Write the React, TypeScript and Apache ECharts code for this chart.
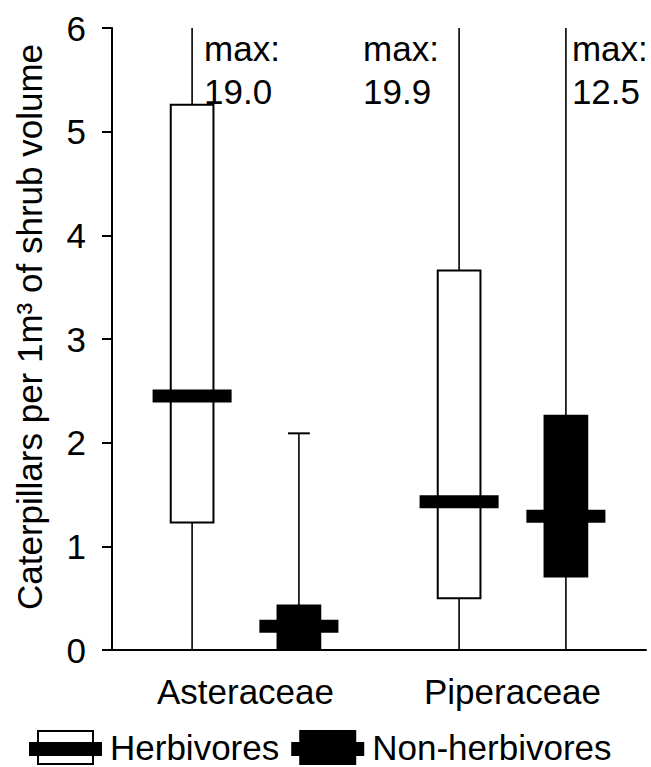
import React, { useEffect, useRef } from "react";
import * as echarts from "echarts";

// ---- data ----
const categories = ["Asteraceae", "Piperaceae"];
// [min, Q1, median, Q3, max]
const herbivores = [
  [0, 1.23, 2.45, 5.26, 19.0],
  [0, 0.5, 1.43, 3.66, 19.9],
];
const nonHerbivores = [
  [0, 0, 0.23, 0.43, 2.09],
  [0, 0.71, 1.29, 2.26, 12.5],
];
const seriesNames = ["Herbivores", "Non-herbivores"];
const yAxisTitle = "Caterpillars per 1m³ of shrub volume";
const yMin = 0;
const yMax = 6;
const yInterval = 1;

const FONT = '"Liberation Sans", Arial, Helvetica, sans-serif';

// label x offsets (px) relative to whisker, per category
const herbLabelOffsets = [12, -96];
const nonHerbLabelOffsets = [6, 6];

function makeRender(offsetFrac: number, filled: boolean, labelOffsets: number[]) {
  return (params: any, api: any) => {
    const cat = api.value(0);
    const band = api.size([1, 0])[0];
    const cs = params.coordSys;
    const cx = api.coord([cat, 0])[0] + offsetFrac * band;
    const py = (v: number) => Math.max(api.coord([cat, v])[1], cs.y);
    const vMin = api.value(1);
    const q1 = api.value(2);
    const med = api.value(3);
    const q3 = api.value(4);
    const vMax = api.value(5);
    const boxW = band * 0.16;
    const medW = band * 0.296;
    const capW = band * 0.082;
    const children: any[] = [
      {
        type: "line",
        shape: { x1: cx, y1: py(vMin), x2: cx, y2: py(vMax) },
        style: { stroke: "#000", lineWidth: 1.6 },
      },
      {
        type: "line",
        shape: { x1: cx - capW / 2, y1: py(vMin), x2: cx + capW / 2, y2: py(vMin) },
        style: { stroke: "#000", lineWidth: 2 },
      },
    ];
    if (vMax <= yMax) {
      children.push({
        type: "line",
        shape: { x1: cx - capW / 2, y1: py(vMax), x2: cx + capW / 2, y2: py(vMax) },
        style: { stroke: "#000", lineWidth: 2 },
      });
    }
    children.push({
      type: "rect",
      shape: { x: cx - boxW / 2, y: py(q3), width: boxW, height: py(q1) - py(q3) },
      style: { fill: filled ? "#000" : "#fff", stroke: "#000", lineWidth: 2 },
    });
    children.push({
      type: "rect",
      shape: { x: cx - medW / 2, y: py(med) - 6.5, width: medW, height: 13 },
      style: { fill: "#000" },
    });
    if (vMax > yMax) {
      children.push({
        type: "text",
        x: cx + labelOffsets[cat],
        y: cs.y - 1,
        style: {
          text: "max:\n" + vMax.toFixed(1),
          fontSize: 35,
          fontFamily: FONT,
          fill: "#000",
          align: "left",
          verticalAlign: "top",
          lineHeight: 43,
        },
      });
    }
    return { type: "group", children };
  };
}

const herbIcon = "path://M8 0H65V35H8Z M10 2V33H63V2Z M0 12H73V26H0Z";
const nonHerbIcon = "path://M8 0H65V35H8Z M0 12H73V26H0Z";

export default function App() {
  const ref = useRef<HTMLDivElement>(null);
  useEffect(() => {
    document.body.style.margin = "0";
    const chart = echarts.init(ref.current!, null, { renderer: "svg" });
    chart.setOption({
      animation: false,
      backgroundColor: "#fff",
      grid: { left: 112, right: 5, top: 28, bottom: 117, containLabel: false },
      legend: {
        left: 29,
        top: 730,
        padding: 0,
        itemWidth: 73,
        itemHeight: 35,
        itemGap: 12,
        textStyle: { fontSize: 35, fontFamily: FONT, color: "#000", padding: [0, 0, 0, 3] },
        itemStyle: { color: "#000", borderWidth: 0 },
        data: [
          { name: seriesNames[0], icon: herbIcon },
          { name: seriesNames[1], icon: nonHerbIcon },
        ],
      },
      xAxis: {
        type: "category",
        data: categories,
        boundaryGap: true,
        axisLine: { lineStyle: { color: "#000", width: 2 } },
        axisTick: { alignWithLabel: true, length: 9, lineStyle: { color: "#000", width: 2 } },
        axisLabel: { fontSize: 35, fontFamily: FONT, color: "#000", margin: 24 },
        splitLine: { show: false },
      },
      yAxis: {
        type: "value",
        min: yMin,
        max: yMax,
        interval: yInterval,
        axisLine: { show: true, lineStyle: { color: "#000", width: 2 } },
        axisTick: { show: true, length: 10, lineStyle: { color: "#000", width: 2 } },
        axisLabel: { fontSize: 35, fontFamily: FONT, color: "#000", margin: 26 },
        splitLine: { show: false },
      },
      graphic: [
        {
          type: "text",
          x: 29,
          y: 327,
          rotation: Math.PI / 2,
          style: {
            text: yAxisTitle,
            fontSize: 35,
            fontFamily: FONT,
            fill: "#000",
            align: "center",
            verticalAlign: "middle",
          },
        },
      ],
      series: [
        {
          name: seriesNames[0],
          type: "custom",
          itemStyle: { color: "#000" },
          encode: { x: 0, y: [1, 2, 3, 4, 5] },
          renderItem: makeRender(-0.2, false, herbLabelOffsets),
          data: herbivores.map((d, i) => [i, ...d]),
        },
        {
          name: seriesNames[1],
          type: "custom",
          itemStyle: { color: "#000" },
          encode: { x: 0, y: [1, 2, 3, 4, 5] },
          renderItem: makeRender(0.2, true, nonHerbLabelOffsets),
          data: nonHerbivores.map((d, i) => [i, ...d]),
        },
      ],
    });
    return () => chart.dispose();
  }, []);
  return (
    <div
      ref={ref}
      style={{ position: "absolute", left: 0, top: 0, width: 651, height: 767 }}
    />
  );
}
